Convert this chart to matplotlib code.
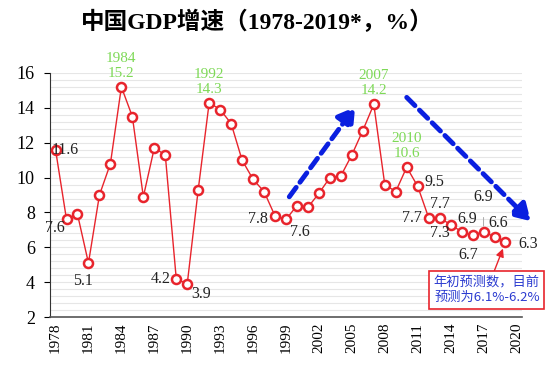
import numpy as np
import matplotlib
matplotlib.use("Agg")
import matplotlib.pyplot as plt
from matplotlib.ticker import MultipleLocator

years = list(range(1978, 2020))
growth = [11.6, 7.6, 7.9, 5.1, 9.0, 10.8, 15.2, 13.5, 8.9, 11.7, 11.3, 4.2, 3.9, 9.3,
          14.3, 13.9, 13.1, 11.0, 9.9, 9.2, 7.8, 7.6, 8.4, 8.3, 9.1, 10.0, 10.1, 11.3,
          12.7, 14.2, 9.6, 9.2, 10.6, 9.5, 7.7, 7.7, 7.3, 6.9, 6.7, 6.9, 6.6, 6.3]
tick_years = list(range(1978, 2021, 3))

# black value labels: (year, text, dx, dy in points, ha)
black_labels = [
    (1978, "11.6", -3, 0, "left"), (1979, "7.6", -1, -6, "right"), (1981, "5.1", -4, -13, "center"),
    (1989, "4.2", -4, 0, "right"), (1990, "3.9", 3, -7, "left"), (1998, "7.8", -5, -2, "right"),
    (1999, "7.6", 3, -9, "left"), (2011, "9.5", 5, 3, "left"), (2012, "7.7", -5, 0, "right"),
    (2013, "7.7", 0, 10, "center"), (2013, "7.3", 0, -11, "center"), (2015, "6.9", 4, 9, "center"),
    (2016, "6.7", -3, -14, "center"), (2018, "6.6", 3, 10, "center"), (2019, "6.3", 9, -1, "left"),
]
# green peak labels
peak_years = [1984, 1992, 2007, 2010]

plt.rcParams["font.family"] = ["Liberation Serif", "Noto Sans CJK SC"]

fig = plt.figure(figsize=(5.5, 3.78), dpi=100)
ax = fig.add_axes([0.091, 0.161, 0.858, 0.646])

red = "#e8242c"
ax.plot(years, growth, color=red, lw=1, marker="o", ms=6.5, mfc="white",
        mec=red, mew=1.8, zorder=3)

ax.set_xlim(1977.5, 2020.5)
ax.set_ylim(2, 16)
ax.yaxis.set_major_locator(MultipleLocator(2))
ax.yaxis.set_minor_locator(MultipleLocator(0.4))
ax.grid(which="both", axis="y", color="#e6e6e6", lw=0.8)
ax.set_axisbelow(True)
ax.set_xticks(tick_years)
ax.set_xticklabels([str(y) for y in tick_years], rotation=90, fontsize=11)
ax.tick_params(axis="x", length=0, pad=4)
ax.tick_params(axis="y", which="major", length=4, labelsize=13, direction="out", pad=7)
ax.tick_params(axis="y", which="minor", length=0)
for s in ["top", "right"]:
    ax.spines[s].set_visible(False)
ax.spines["left"].set_color("#333333")
ax.spines["bottom"].set_color("#555555")
ax.spines["bottom"].set_linewidth(1.2)

val = dict(zip(years, growth))
for yr, txt, dx, dy, ha in black_labels:
    ax.annotate(txt, (yr, val[yr]), xytext=(dx, dy), textcoords="offset points",
                ha=ha, va="center", fontsize=11.5, color="#222222", zorder=4)
# leader line for 2017
ax.annotate("6.9", (2017, val[2017]), xytext=(0, 25), textcoords="offset points",
            ha="center", va="center", fontsize=11.5, color="#222222",
            arrowprops=dict(arrowstyle="-", color="#aaaaaa", lw=0.7, shrinkA=7, shrinkB=4))

green = "#7ed957"
for yr in peak_years:
    ax.annotate(f"{yr}\n{val[yr]}", (yr, val[yr]), xytext=(0, 5), textcoords="offset points",
                ha="center", va="bottom", fontsize=11, color=green, linespacing=1.2,
                annotation_clip=False)

blue = "#0a1fe0"
arrow_kw = dict(arrowstyle="-|>,head_length=1.0,head_width=0.6", color=blue, lw=3.5,
                linestyle=(0, (2.4, 1.3)), shrinkA=0, shrinkB=0)
ax.annotate("", xy=(2005.3, 14.05), xytext=(1999.3, 8.9), arrowprops=arrow_kw,
            annotation_clip=False)
ax.annotate("", xy=(2021.3, 7.5), xytext=(2010.0, 14.6), arrowprops=arrow_kw,
            annotation_clip=False)

ax.annotate("年初预测数，目前\n预测为6.1%-6.2%", xy=(2019, val[2019]), xytext=(2017.3, 3.55),
            ha="center", va="center", fontsize=9.5, color="#2b3bd0",
            family=["Noto Sans CJK SC", "DejaVu Sans"], annotation_clip=False,
            bbox=dict(boxstyle="square,pad=0.35", fc="white", ec=red, lw=1.2),
            arrowprops=dict(arrowstyle="-|>,head_length=0.5,head_width=0.25", color=red,
                            lw=1, shrinkA=0, shrinkB=5))

fig.text(0.468, 0.942, "中国GDP增速（1978-2019*，%）", ha="center", va="center",
         fontsize=17, fontweight="bold")

fig.savefig("out.png", dpi=100)
